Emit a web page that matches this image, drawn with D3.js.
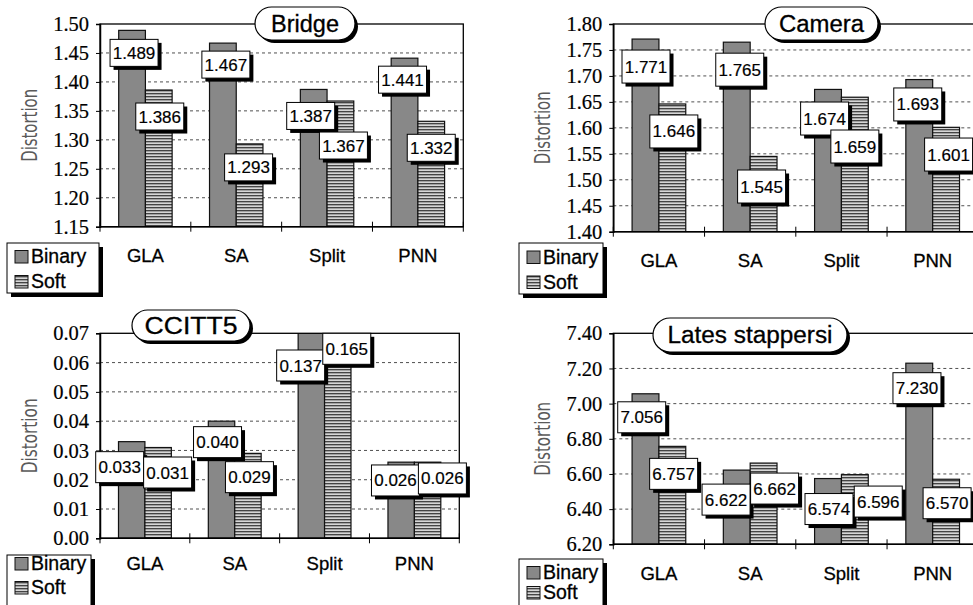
<!DOCTYPE html>
<html>
<head>
<meta charset="utf-8">
<script src="https://cdn.jsdelivr.net/npm/d3@7"></script>
<style>
  html, body { margin: 0; padding: 0; background: #fff; }
  svg { display: block; }
</style>
</head>
<body>
<svg id="chart" width="973" height="605"></svg>
<script>
// ---------------- data ----------------
const categories = ["GLA", "SA", "Split", "PNN"];
const seriesNames = ["Binary", "Soft"];
const yAxisTitle = "Distortion";

const bridgeBinary = [1.489, 1.467, 1.387, 1.441];
const bridgeSoft   = [1.386, 1.293, 1.367, 1.332];
const bridgeTicks  = [1.15, 1.20, 1.25, 1.30, 1.35, 1.40, 1.45, 1.50];

const cameraBinary = [1.771, 1.765, 1.674, 1.693];
const cameraSoft   = [1.646, 1.545, 1.659, 1.601];
const cameraTicks  = [1.40, 1.45, 1.50, 1.55, 1.60, 1.65, 1.70, 1.75, 1.80];

const ccittBinary = [0.033, 0.040, 0.137, 0.026];
const ccittSoft   = [0.031, 0.029, 0.165, 0.026];
const ccittTicks  = [0.00, 0.01, 0.02, 0.03, 0.04, 0.05, 0.06, 0.07];

const latesBinary = [7.056, 6.622, 6.574, 7.230];
const latesSoft   = [6.757, 6.662, 6.596, 6.570];
const latesTicks  = [6.20, 6.40, 6.60, 6.80, 7.00, 7.20, 7.40];

// ---------------- layout (positions / nudges, kept apart from data) ----------------
const panels = [
  { title: "Bridge", binary: bridgeBinary, soft: bridgeSoft, ticks: bridgeTicks,
    plot: {x0: 100, x1: 463.3, y0: 24, y1: 226.7}, ylabX: 30, ylabLen: 73,
    legend: {x: 7, y: 243, w: 92, h: 50, rows: [20, 45]}, catBase: 262,
    pill: {cx: 305, y: 7, w: 100, h: 33, tl: 68},
    boxH: 27,
    nudgeB: [[2,-1],[3,-2],[-3,3],[-2,-2]],
    nudgeS: [[1,3],[-1,0],[3,21],[0,3]] },
  { title: "Camera", binary: cameraBinary, soft: cameraSoft, ticks: cameraTicks,
    plot: {x0: 613.3, x1: 978.3, y0: 24, y1: 231.7}, ylabX: 543, ylabLen: 73,
    legend: {x: 519, y: 243, w: 84, h: 51, rows: [20.5, 45.5]}, catBase: 266.5,
    pill: {cx: 821.5, y: 7, w: 113, h: 33, tl: 85},
    boxH: 33,
    nudgeB: [[0.5,1],[3,1],[-3.4,2.6],[-1.5,-1.6]],
    nudgeS: [[1.5,1],[-2,3.6],[0,22.8],[2.5,0.7]] },
  { title: "CCITT5", binary: ccittBinary, soft: ccittSoft, ticks: ccittTicks,
    plot: {x0: 100, x1: 459.3, y0: 333.3, y1: 538.3}, ylabX: 30, ylabLen: 75,
    legend: {x: 7, y: 555, w: 84, h: 52, rows: [15, 39]}, catBase: 570,
    pill: {cx: 191, y: 310, w: 118, h: 31, tl: 93},
    boxH: 31,
    nudgeB: [[-12,0],[-4,-4.5],[-10.7,6.7],[-5.7,-7.2]],
    nudgeS: [[9.5,-0.5],[1.5,-1.7],[9,-10],[14.8,-9.2]] },
  { title: "Lates stappersi", binary: latesBinary, soft: latesSoft, ticks: latesTicks,
    plot: {x0: 613.3, x1: 978.3, y0: 333.3, y1: 544.3}, ylabX: 543, ylabLen: 74,
    legend: {x: 519, y: 559, w: 84, h: 50, rows: [20, 40]}, catBase: 580,
    pill: {cx: 750, y: 318, w: 194, h: 34, tl: 165},
    boxH: 31,
    nudgeB: [[-3.8,-2],[-10.7,4],[1,5],[-2.3,-0.5]],
    nudgeS: [[1.3,2],[11,0],[23.4,1.4],[1,-1.5]] }
];

const BIN_FILL = "#888888";
const svg = d3.select("#chart");
svg.append("rect").attr("width", 973).attr("height", 605).attr("fill", "#fff");

// hatch pattern for "Soft"
const defs = svg.append("defs");
const pat = defs.append("pattern").attr("id", "hatch")
  .attr("patternUnits", "userSpaceOnUse").attr("width", 6).attr("height", 3);
pat.append("rect").attr("width", 6).attr("height", 3).attr("fill", "#a2a2a2");
pat.append("rect").attr("y", 0).attr("width", 6).attr("height", 1).attr("fill", "#444");
pat.append("rect").attr("y", 2).attr("width", 6).attr("height", 1).attr("fill", "#d6d6d6");

const SANS = "'Liberation Sans', Arial, Helvetica, sans-serif";
const SERIF = "'Liberation Serif', 'Times New Roman', serif";

function heavy(sel, w) {
  return sel.attr("stroke", "#000").attr("stroke-width", w).attr("paint-order", "stroke");
}

panels.forEach((p, pi) => {
  const g = svg.append("g");
  const P = p.plot;
  const y = d3.scaleLinear()
    .domain([d3.min(p.ticks), d3.max(p.ticks)])
    .range([P.y1, P.y0]);
  const x = d3.scaleBand().domain(categories).range([P.x0, P.x1]).padding(0);
  const xs = d3.scaleBand().domain(seriesNames).range([0, x.bandwidth()])
    .paddingInner(0).paddingOuter(0.7);

  const clipId = "clip" + pi;
  defs.append("clipPath").attr("id", clipId)
    .append("rect").attr("x", P.x0).attr("y", P.y0)
    .attr("width", P.x1 - P.x0).attr("height", P.y1 - P.y0);

  // gridlines
  g.append("g").selectAll("line")
    .data(p.ticks.slice(1, -1))
    .join("line")
    .attr("x1", P.x0).attr("x2", P.x1)
    .attr("y1", d => y(d)).attr("y2", d => y(d))
    .attr("stroke", "#505050").attr("stroke-width", 1)
    .attr("stroke-dasharray", "3,3");

  // bars
  const rows = categories.map((c, i) => ({ c, i, vals: [p.binary[i], p.soft[i]] }));
  const bars = g.append("g").attr("clip-path", `url(#${clipId})`);
  rows.forEach(r => {
    seriesNames.forEach((s, si) => {
      const v = r.vals[si];
      bars.append("rect")
        .attr("x", x(r.c) + xs(s))
        .attr("y", y(v))
        .attr("width", xs.bandwidth())
        .attr("height", P.y1 - y(v))
        .attr("fill", si === 0 ? BIN_FILL : "url(#hatch)")
        .attr("stroke", "#111").attr("stroke-width", 1.2);
    });
  });

  // border
  g.append("rect").attr("x", P.x0).attr("y", P.y0)
    .attr("width", P.x1 - P.x0).attr("height", P.y1 - P.y0)
    .attr("fill", "none").attr("stroke", "#000").attr("stroke-width", 1.3);

  // y axis
  const yAxis = d3.axisLeft(y).tickValues(p.ticks)
    .tickFormat(d => d.toFixed(2)).tickSize(4).tickPadding(7);
  const ya = g.append("g").attr("transform", `translate(${P.x0},0)`).call(yAxis);
  ya.select(".domain").attr("stroke", "#000").attr("stroke-width", 1.5);
  ya.selectAll(".tick line").attr("stroke", "#000");
  heavy(ya.selectAll(".tick text").attr("font-family", SERIF).attr("font-size", 20.5)
    .attr("fill", "#000"), 0.2);

  // bottom axis line + boundary ticks
  g.append("line").attr("x1", P.x0).attr("x2", P.x1)
    .attr("y1", P.y1).attr("y2", P.y1).attr("stroke", "#000").attr("stroke-width", 1.6);
  const bounds = categories.map(c => x(c)).concat([x.range()[1]]);
  g.append("g").selectAll("line").data(bounds).join("line")
    .attr("x1", d => d).attr("x2", d => d)
    .attr("y1", P.y1 - 5).attr("y2", P.y1 + 5)
    .attr("stroke", "#000").attr("stroke-width", 1);

  // category labels
  heavy(g.append("g").selectAll("text").data(categories).join("text")
    .attr("x", d => x(d) + x.bandwidth() / 2)
    .attr("y", p.catBase)
    .attr("text-anchor", "middle")
    .attr("font-family", SANS).attr("font-size", 18.5).attr("fill", "#000")
    .text(d => d), 0.3);

  // y title
  g.append("text")
    .attr("transform", `translate(${p.ylabX + 7},${(P.y0 + P.y1) / 2}) rotate(-90)`)
    .attr("text-anchor", "middle")
    .attr("font-family", "'Liberation Sans Narrow', 'DejaVu Sans Condensed', sans-serif")
    .attr("font-size", 22).attr("fill", "#5a5a5a")
    .attr("textLength", p.ylabLen).attr("lengthAdjust", "spacingAndGlyphs")
    .text(yAxisTitle);

  // data labels
  const BW = 48, SH = 3.5;
  const labG = g.append("g");
  rows.forEach(r => {
    seriesNames.forEach((s, si) => {
      const v = r.vals[si];
      const nud = (si === 0 ? p.nudgeB : p.nudgeS)[r.i];
      const cx = x(r.c) + xs(s) + xs.bandwidth() / 2 + nud[0];
      const top = Math.max(y(v), P.y0) + 10 + nud[1];
      const lg = labG.append("g");
      lg.append("rect").attr("x", cx - BW / 2 + SH).attr("y", top + SH)
        .attr("width", BW).attr("height", p.boxH).attr("fill", "#000");
      lg.append("rect").attr("x", cx - BW / 2).attr("y", top)
        .attr("width", BW).attr("height", p.boxH)
        .attr("fill", "#fff").attr("stroke", "#000").attr("stroke-width", 1);
      heavy(lg.append("text").attr("x", cx).attr("y", top + p.boxH / 2 + 6)
        .attr("text-anchor", "middle")
        .attr("font-family", SANS).attr("font-size", 17).attr("fill", "#000")
        .text(v.toFixed(3)), 0.2);
    });
  });

  // title pill
  const pl = p.pill;
  const pg = g.append("g");
  pg.append("rect").attr("x", pl.cx - pl.w / 2 + 3).attr("y", pl.y + 3)
    .attr("width", pl.w).attr("height", pl.h).attr("rx", pl.h / 2).attr("fill", "#000");
  pg.append("rect").attr("x", pl.cx - pl.w / 2).attr("y", pl.y)
    .attr("width", pl.w).attr("height", pl.h).attr("rx", pl.h / 2)
    .attr("fill", "#fff").attr("stroke", "#000").attr("stroke-width", 1.2);
  heavy(pg.append("text").attr("x", pl.cx).attr("y", pl.y + pl.h / 2 + 8)
    .attr("text-anchor", "middle")
    .attr("font-family", SANS).attr("font-size", 23).attr("fill", "#000")
    .attr("textLength", pl.tl).attr("lengthAdjust", "spacingAndGlyphs")
    .text(p.title), 0.3);

  // legend
  const L = p.legend;
  const lgd = g.append("g");
  lgd.append("rect").attr("x", L.x + 4).attr("y", L.y + 4)
    .attr("width", L.w).attr("height", L.h).attr("fill", "#000");
  lgd.append("rect").attr("x", L.x).attr("y", L.y)
    .attr("width", L.w).attr("height", L.h)
    .attr("fill", "#fff").attr("stroke", "#000").attr("stroke-width", 1);
  seriesNames.forEach((s, si) => {
    const base = L.y + L.rows[si];
    lgd.append("rect").attr("x", L.x + 8).attr("y", base - 12.5)
      .attr("width", 13).attr("height", 12.5)
      .attr("fill", si === 0 ? BIN_FILL : "url(#hatch)")
      .attr("stroke", "#111").attr("stroke-width", 1);
    heavy(lgd.append("text").attr("x", L.x + 24).attr("y", base)
      .attr("font-family", SANS).attr("font-size", 19.5).attr("fill", "#000")
      .text(s), 0.3);
  });
});
</script>
</body>
</html>
